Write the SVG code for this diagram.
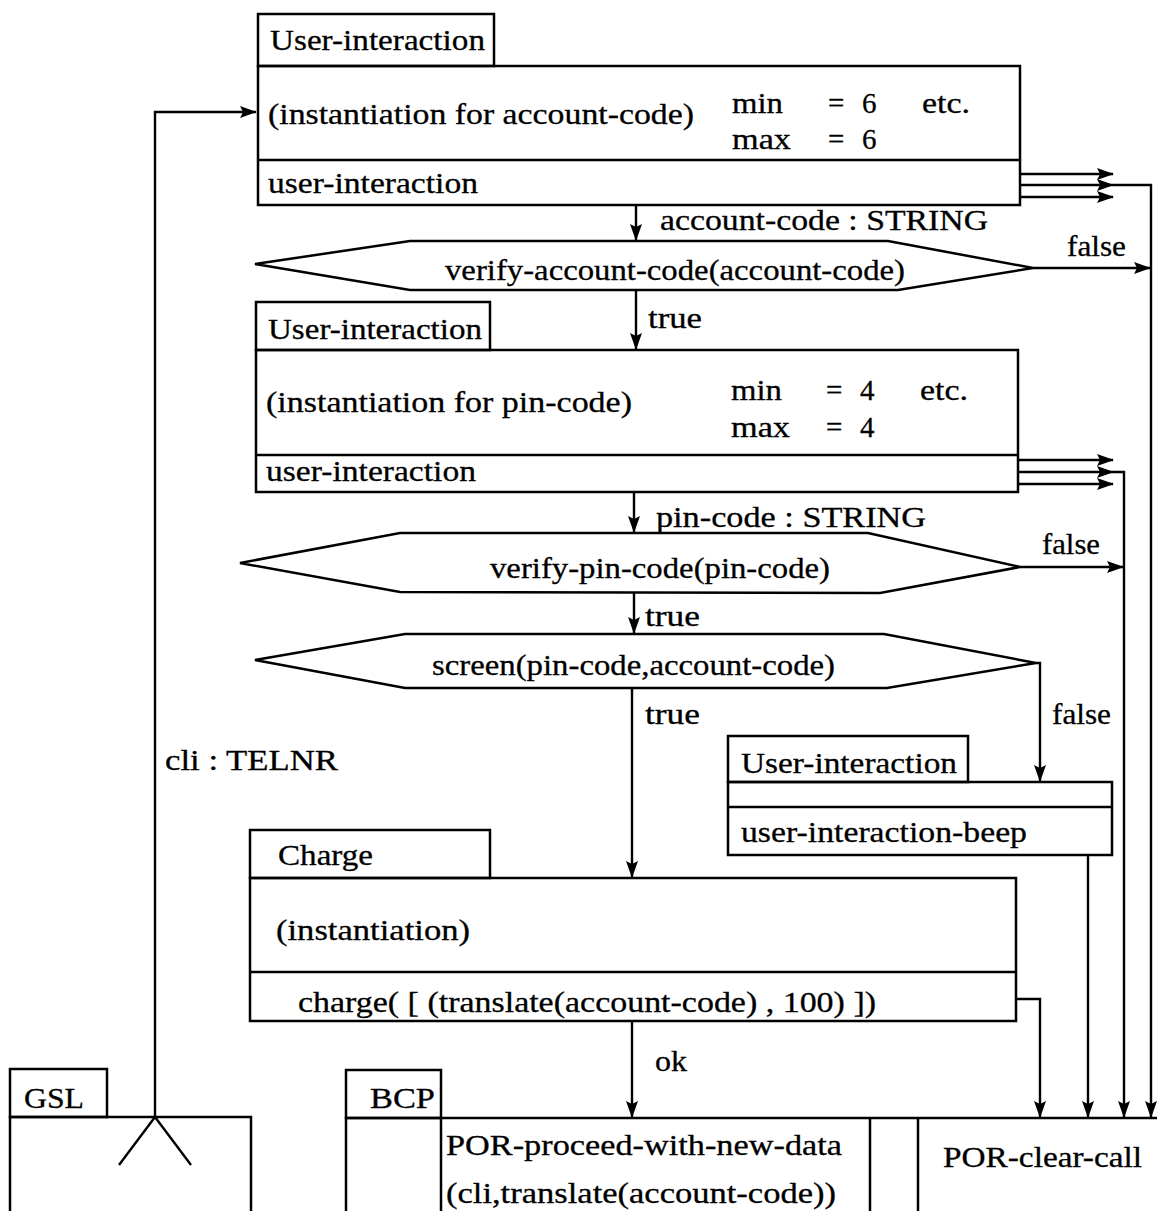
<svg xmlns="http://www.w3.org/2000/svg" width="1157" height="1211" viewBox="0 0 1157 1211">
  <style>
    .box { fill: none; stroke: #000; stroke-width: 2.5; }
    .ln { fill: none; stroke: #000; stroke-width: 2.4; }
    .t { font-family: "Liberation Serif", "Times New Roman", serif; font-size: 29px; fill: #000; stroke: #000; stroke-width: 0.3; }
  </style>
  <defs>
    <marker id="arr" viewBox="0 0 17 12" refX="16" refY="6" markerWidth="17" markerHeight="12" markerUnits="userSpaceOnUse" orient="auto">
      <path d="M0,0 L17,6 L0,12 L3,6 z" fill="#000"/>
    </marker>
  </defs>
  <rect width="1157" height="1211" fill="#fff"/>

  <!-- connectors -->
  <g id="connectors" class="ln">
    <path d="M155,1117 V112 H256" marker-end="url(#arr)"/>
    <path d="M636,205 V240" marker-end="url(#arr)"/>
    <path d="M636,290 V349" marker-end="url(#arr)"/>
    <path d="M634,492 V532" marker-end="url(#arr)"/>
    <path d="M634,592 V633" marker-end="url(#arr)"/>
    <path d="M632,688 V877" marker-end="url(#arr)"/>
    <path d="M1036,663 H1040 V781" marker-end="url(#arr)"/>
    <path d="M632,1021 V1117" marker-end="url(#arr)"/>
    <!-- exits of the first user-interaction -->
    <path d="M1020,174 H1113" marker-end="url(#arr)"/>
    <path d="M1020,185 H1113" marker-end="url(#arr)"/>
    <path d="M1020,197 H1113" marker-end="url(#arr)"/>
    <path d="M1113,185 H1151 V1117" marker-end="url(#arr)"/>
    <path d="M1033,268 H1150" marker-end="url(#arr)"/>
    <!-- exits of the second user-interaction -->
    <path d="M1018,460 H1113" marker-end="url(#arr)"/>
    <path d="M1018,472 H1113" marker-end="url(#arr)"/>
    <path d="M1018,484 H1113" marker-end="url(#arr)"/>
    <path d="M1113,472 H1124 V1117" marker-end="url(#arr)"/>
    <path d="M1020,567 H1123" marker-end="url(#arr)"/>
    <!-- beep and charge exits -->
    <path d="M1088,855 V1117" marker-end="url(#arr)"/>
    <path d="M1016,999 H1040 V1117" marker-end="url(#arr)"/>
  </g>
  <g id="connector-labels">
    <text class="t" x="660" y="230" textLength="328" lengthAdjust="spacingAndGlyphs">account-code : STRING</text>
    <text class="t" x="1067" y="256" textLength="59" lengthAdjust="spacingAndGlyphs">false</text>
    <text class="t" x="648" y="328" textLength="54" lengthAdjust="spacingAndGlyphs">true</text>
    <text class="t" x="656" y="527" textLength="270" lengthAdjust="spacingAndGlyphs">pin-code : STRING</text>
    <text class="t" x="1042" y="554" textLength="58" lengthAdjust="spacingAndGlyphs">false</text>
    <text class="t" x="645" y="626" textLength="55" lengthAdjust="spacingAndGlyphs">true</text>
    <text class="t" x="645" y="724" textLength="55" lengthAdjust="spacingAndGlyphs">true</text>
    <text class="t" x="1052" y="724" textLength="59" lengthAdjust="spacingAndGlyphs">false</text>
    <text class="t" x="165" y="770" textLength="173" lengthAdjust="spacingAndGlyphs">cli : TELNR</text>
    <text class="t" x="655" y="1071" textLength="32" lengthAdjust="spacingAndGlyphs">ok</text>
  </g>

  <!-- user interaction for the account code -->
  <g id="ui-account">
    <rect class="box" x="258" y="14" width="236" height="52"/>
    <rect class="box" x="258" y="66" width="762" height="139"/>
    <line class="box" x1="258" y1="160" x2="1020" y2="160"/>
    <text class="t" x="270" y="50" textLength="215" lengthAdjust="spacingAndGlyphs">User-interaction</text>
    <text class="t" x="268" y="124" textLength="426" lengthAdjust="spacingAndGlyphs">(instantiation for account-code)</text>
    <text class="t" x="732" y="113" textLength="51" lengthAdjust="spacingAndGlyphs">min</text>
    <text class="t" x="828" y="113">=</text>
    <text class="t" x="862" y="113">6</text>
    <text class="t" x="922" y="113" textLength="48" lengthAdjust="spacingAndGlyphs">etc.</text>
    <text class="t" x="732" y="149" textLength="59" lengthAdjust="spacingAndGlyphs">max</text>
    <text class="t" x="828" y="149">=</text>
    <text class="t" x="862" y="149">6</text>
    <text class="t" x="268" y="193" textLength="210" lengthAdjust="spacingAndGlyphs">user-interaction</text>
  </g>

  <!-- account code check -->
  <g id="verify-account">
    <polygon class="box" points="255,264 410,241 888,241 1033,268 898,290 410,290"/>
    <text class="t" x="445" y="280" textLength="460" lengthAdjust="spacingAndGlyphs">verify-account-code(account-code)</text>
  </g>

  <!-- user interaction for the pin code -->
  <g id="ui-pin">
    <rect class="box" x="256" y="302" width="234" height="48"/>
    <rect class="box" x="256" y="350" width="762" height="142"/>
    <line class="box" x1="256" y1="455" x2="1018" y2="455"/>
    <text class="t" x="268" y="339" textLength="214" lengthAdjust="spacingAndGlyphs">User-interaction</text>
    <text class="t" x="266" y="412" textLength="366" lengthAdjust="spacingAndGlyphs">(instantiation for pin-code)</text>
    <text class="t" x="731" y="400" textLength="51" lengthAdjust="spacingAndGlyphs">min</text>
    <text class="t" x="826" y="400">=</text>
    <text class="t" x="860" y="400">4</text>
    <text class="t" x="920" y="400" textLength="48" lengthAdjust="spacingAndGlyphs">etc.</text>
    <text class="t" x="731" y="437" textLength="59" lengthAdjust="spacingAndGlyphs">max</text>
    <text class="t" x="826" y="437">=</text>
    <text class="t" x="860" y="437">4</text>
    <text class="t" x="266" y="481" textLength="210" lengthAdjust="spacingAndGlyphs">user-interaction</text>
  </g>

  <!-- pin code check -->
  <g id="verify-pin">
    <polygon class="box" points="240,563 400,533 868,533 1020,567 880,593 400,592"/>
    <text class="t" x="490" y="578" textLength="340" lengthAdjust="spacingAndGlyphs">verify-pin-code(pin-code)</text>
  </g>

  <!-- screening -->
  <g id="screen">
    <polygon class="box" points="255,660 405,634 884,634 1036,663 887,688 405,688"/>
    <text class="t" x="432" y="675" textLength="403" lengthAdjust="spacingAndGlyphs">screen(pin-code,account-code)</text>
  </g>

  <!-- beep interaction -->
  <g id="ui-beep">
    <rect class="box" x="728" y="736" width="240" height="46"/>
    <rect class="box" x="728" y="782" width="384" height="73"/>
    <line class="box" x1="728" y1="807" x2="1112" y2="807"/>
    <text class="t" x="741" y="773" textLength="216" lengthAdjust="spacingAndGlyphs">User-interaction</text>
    <text class="t" x="741" y="842" textLength="286" lengthAdjust="spacingAndGlyphs">user-interaction-beep</text>
  </g>

  <!-- charging -->
  <g id="charge">
    <rect class="box" x="250" y="830" width="240" height="48"/>
    <rect class="box" x="250" y="878" width="766" height="143"/>
    <line class="box" x1="250" y1="972" x2="1016" y2="972"/>
    <text class="t" x="278" y="865" textLength="95" lengthAdjust="spacingAndGlyphs">Charge</text>
    <text class="t" x="276" y="940" textLength="194" lengthAdjust="spacingAndGlyphs">(instantiation)</text>
    <text class="t" x="298" y="1012" textLength="578" lengthAdjust="spacingAndGlyphs">charge( [ (translate(account-code) , 100) ])</text>
  </g>

  <!-- GSL -->
  <g id="gsl">
    <rect class="box" x="10" y="1069" width="97" height="48"/>
    <path class="box" d="M10,1214 V1117 H251 V1214"/>
    <path class="ln" d="M119,1165 L155,1117 L191,1165"/>
    <text class="t" x="24" y="1108" textLength="60" lengthAdjust="spacingAndGlyphs">GSL</text>
  </g>

  <!-- BCP -->
  <g id="bcp">
    <rect class="box" x="346" y="1070" width="95" height="48"/>
    <path class="box" d="M346,1214 V1118 H1160"/>
    <line class="box" x1="441" y1="1118" x2="441" y2="1214"/>
    <line class="box" x1="870" y1="1118" x2="870" y2="1214"/>
    <line class="box" x1="918" y1="1118" x2="918" y2="1214"/>
    <text class="t" x="370" y="1108" textLength="65" lengthAdjust="spacingAndGlyphs">BCP</text>
    <text class="t" x="446" y="1155" textLength="396" lengthAdjust="spacingAndGlyphs">POR-proceed-with-new-data</text>
    <text class="t" x="446" y="1203" textLength="390" lengthAdjust="spacingAndGlyphs">(cli,translate(account-code))</text>
    <text class="t" x="943" y="1167" textLength="199" lengthAdjust="spacingAndGlyphs">POR-clear-call</text>
  </g>
</svg>
